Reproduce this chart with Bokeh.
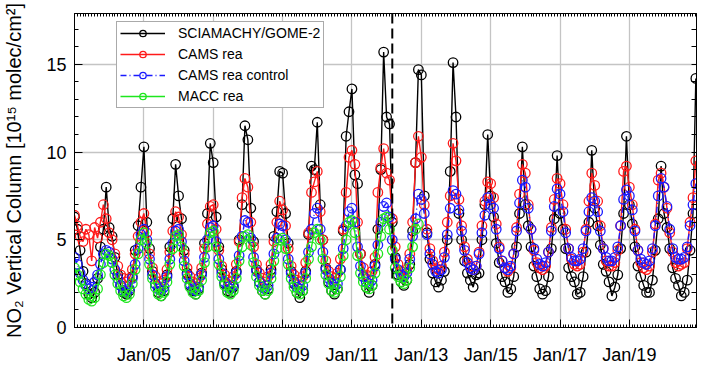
import pandas as pd
from bokeh.plotting import figure
from bokeh.models import (Range1d, FixedTicker, DatetimeTickFormatter, DatetimeAxis,
                          LinearAxis, Span, Legend, LegendItem, ColumnDataSource)
from bokeh.embed import file_html
from bokeh.resources import INLINE

# ---------------- data (monthly, Jan 2003 - Dec 2020) ----------------
sciamachy_gome2 = [
    6.3, 5.6, 4.4, 3.2, 2.5, 1.9, 1.7, 2.0, 2.8, 4.6, 5.6, 8.0,     # 2003
    5.7, 5.2, 4.0, 3.0, 2.4, 2.0, 1.9, 2.1, 2.9, 4.4, 5.8, 8.0,     # 2004
    10.3, 6.0, 4.5, 3.2, 2.5, 2.0, 1.8, 2.1, 3.0, 4.6, 6.2, 9.3,    # 2005
    7.5, 6.2, 4.4, 3.1, 2.4, 2.1, 1.9, 2.2, 3.1, 4.8, 6.5, 10.5,    # 2006
    9.4, 6.3, 4.6, 3.3, 2.5, 2.1, 2.0, 2.3, 3.2, 5.0, 7.0, 11.5,    # 2007
    10.7, 6.8, 4.9, 3.3, 2.6, 2.1, 1.9, 2.2, 3.3, 5.2, 6.6, 8.9,    # 2008
    8.8, 6.5, 4.8, 3.2, 2.5, 2.0, 1.7, 2.1, 3.2, 5.3, 9.2, 9.0,     # 2009
    11.7, 7.0, 5.0, 3.4, 2.6, 2.1, 1.9, 2.2, 3.3, 5.5, 10.9, 12.3,  # 2010
    13.6, 8.7, 8.2, 4.2, 2.9, 2.3, 2.0, 2.4, 3.6, 5.6, 9.0, 15.7,   # 2011
    12.0, 11.6, 6.0, 4.0, 3.0, 2.6, 2.4, 2.7, 3.6, 5.5, 9.4, 14.7,  # 2012
    14.4, 7.5, 5.4, 3.9, 3.1, 2.6, 2.3, 2.7, 3.2, 5.0, 8.9, 15.1,   # 2013
    12.0, 6.5, 5.0, 3.8, 3.1, 2.7, 2.3, 3.0, 3.1, 5.0, 7.0, 11.0,   # 2014
    7.5, 6.3, 4.8, 3.7, 2.9, 2.6, 2.0, 2.2, 2.9, 4.6, 6.5, 10.3,    # 2015
    7.0, 5.8, 4.6, 3.5, 2.9, 2.2, 1.9, 2.1, 2.9, 4.5, 6.2, 9.8,     # 2016
    6.5, 5.6, 4.5, 3.4, 2.9, 2.6, 1.9, 2.0, 2.9, 4.3, 6.0, 10.1,    # 2017
    6.8, 5.8, 4.7, 3.6, 3.2, 2.6, 1.8, 2.3, 3.0, 4.5, 6.5, 10.9,    # 2018
    7.0, 5.9, 4.6, 3.5, 2.9, 2.4, 2.0, 2.0, 2.7, 4.4, 6.2, 9.2,     # 2019
    6.5, 5.7, 4.5, 3.4, 2.8, 2.4, 1.8, 2.0, 2.7, 4.4, 6.5, 14.2,    # 2020
]
cams_rea = [
    6.4, 5.8, 5.2, 4.9, 5.6, 5.3, 3.8, 5.7, 5.1, 6.0, 7.0, 6.2,     # 2003
    5.4, 5.0, 4.2, 3.5, 3.0, 2.8, 2.6, 2.8, 3.3, 4.2, 5.2, 6.0,     # 2004
    6.5, 5.4, 4.2, 3.4, 2.9, 2.6, 2.5, 2.7, 3.3, 4.3, 5.5, 6.6,     # 2005
    6.3, 5.3, 4.2, 3.4, 2.9, 2.6, 2.5, 2.8, 3.4, 4.5, 5.9, 6.9,     # 2006
    7.0, 5.6, 4.4, 3.5, 3.0, 2.7, 2.6, 2.9, 3.6, 4.9, 7.4, 8.5,     # 2007
    8.0, 6.0, 4.6, 3.6, 3.1, 2.8, 2.6, 2.9, 3.6, 4.9, 6.0, 7.2,     # 2008
    6.7, 5.8, 4.5, 3.5, 3.0, 2.7, 2.6, 2.9, 3.7, 5.4, 7.7, 8.3,     # 2009
    8.9, 6.6, 5.0, 3.8, 3.2, 2.9, 2.8, 3.1, 3.9, 5.6, 7.7, 9.7,     # 2010
    10.1, 9.3, 6.0, 4.2, 3.4, 3.0, 2.9, 3.2, 4.0, 7.7, 9.1, 10.2,   # 2011
    8.8, 8.4, 6.2, 4.6, 3.6, 3.2, 3.0, 3.3, 4.2, 6.0, 9.4, 10.9,    # 2012
    9.7, 7.0, 5.6, 4.5, 3.8, 3.4, 3.3, 3.5, 4.3, 6.0, 7.5, 10.5,    # 2013
    9.5, 7.3, 5.8, 4.6, 3.9, 3.5, 3.3, 3.5, 4.3, 5.8, 7.2, 8.3,     # 2014
    8.2, 7.4, 5.9, 4.6, 3.8, 3.4, 3.2, 3.4, 4.2, 5.7, 7.6, 9.3,     # 2015
    8.8, 7.0, 5.6, 4.4, 3.7, 3.4, 3.3, 3.5, 4.3, 5.7, 7.3, 8.5,     # 2016
    8.2, 7.0, 5.6, 4.5, 3.9, 3.6, 3.5, 3.6, 4.3, 5.6, 7.2, 8.8,     # 2017
    8.1, 7.2, 5.8, 4.5, 3.8, 3.5, 3.5, 3.7, 4.4, 5.8, 8.9, 9.2,     # 2018
    8.0, 7.0, 5.6, 4.4, 3.7, 3.4, 3.3, 3.5, 4.3, 5.9, 8.4, 8.8,     # 2019
    8.0, 6.8, 5.4, 4.3, 3.7, 3.5, 3.6, 3.7, 4.5, 6.0, 7.4, 9.5,     # 2020
]
cams_rea_control = [
    4.0, 3.6, 3.1, 2.7, 2.4, 2.2, 2.3, 2.6, 3.0, 3.6, 4.2, 4.4,     # 2003
    4.3, 3.9, 3.3, 2.8, 2.4, 2.1, 2.0, 2.2, 2.8, 3.6, 4.5, 5.3,     # 2004
    5.6, 5.0, 3.9, 3.0, 2.5, 2.2, 2.1, 2.3, 2.9, 3.9, 4.8, 5.5,     # 2005
    5.6, 4.9, 3.8, 3.0, 2.5, 2.2, 2.1, 2.3, 3.0, 4.0, 5.0, 5.7,     # 2006
    5.8, 4.9, 3.9, 3.1, 2.6, 2.3, 2.2, 2.4, 3.1, 4.1, 5.2, 6.1,     # 2007
    6.0, 5.1, 4.0, 3.2, 2.6, 2.3, 2.2, 2.4, 3.1, 4.2, 5.1, 5.9,     # 2008
    5.8, 5.0, 3.9, 3.1, 2.6, 2.3, 2.2, 2.4, 3.1, 4.3, 5.6, 6.5,     # 2009
    6.8, 5.6, 4.3, 3.3, 2.8, 2.5, 2.3, 2.5, 3.3, 4.5, 5.8, 6.6,     # 2010
    6.8, 6.0, 4.6, 3.5, 2.9, 2.6, 2.5, 2.7, 3.5, 4.7, 6.0, 6.9,     # 2011
    7.1, 6.3, 5.0, 3.9, 3.3, 3.0, 2.9, 3.1, 3.9, 5.2, 6.2, 7.6,     # 2012
    7.3, 6.5, 5.3, 4.2, 3.6, 3.2, 3.1, 3.3, 4.0, 5.3, 6.8, 7.8,     # 2013
    7.6, 6.7, 5.5, 4.4, 3.7, 3.4, 3.3, 3.5, 4.2, 5.4, 6.4, 7.4,     # 2014
    7.0, 6.8, 5.6, 4.5, 3.8, 3.4, 3.3, 3.5, 4.2, 5.5, 7.1, 8.4,     # 2015
    8.0, 6.8, 5.6, 4.5, 3.9, 3.6, 3.5, 3.7, 4.3, 5.5, 6.9, 7.9,     # 2016
    7.6, 6.6, 5.4, 4.5, 4.0, 3.8, 3.8, 3.9, 4.5, 5.5, 6.6, 7.4,     # 2017
    7.2, 6.6, 5.5, 4.5, 4.0, 3.8, 3.8, 4.0, 4.6, 5.8, 7.3, 7.85,    # 2018
    7.5, 6.7, 5.5, 4.4, 3.9, 3.7, 3.6, 3.8, 4.5, 5.8, 7.5, 8.5,     # 2019
    8.0, 6.9, 5.6, 4.5, 4.0, 3.9, 3.9, 4.0, 4.6, 5.8, 7.0, 8.2,     # 2020
]
macc_rea = [
    3.4, 3.0, 2.6, 2.2, 1.9, 1.6, 1.5, 1.7, 2.2, 3.0, 3.7, 4.2,     # 2003
    4.1, 3.7, 3.0, 2.5, 2.1, 1.8, 1.7, 1.9, 2.5, 3.3, 4.2, 5.0,     # 2004
    5.4, 4.8, 3.6, 2.8, 2.3, 1.9, 1.8, 2.0, 2.6, 3.6, 4.5, 5.2,     # 2005
    5.3, 4.6, 3.5, 2.8, 2.3, 2.0, 1.9, 2.1, 2.7, 3.7, 4.6, 5.4,     # 2006
    5.5, 4.6, 3.6, 2.9, 2.4, 2.0, 1.9, 2.1, 2.8, 3.8, 4.6, 5.2,     # 2007
    5.3, 4.7, 3.7, 2.9, 2.4, 2.1, 1.9, 2.1, 2.8, 3.8, 4.5, 5.0,     # 2008
    5.1, 4.5, 3.6, 2.8, 2.3, 2.0, 1.9, 2.1, 2.8, 3.9, 4.6, 5.4,     # 2009
    5.6, 5.0, 3.9, 3.0, 2.5, 2.1, 2.0, 2.2, 2.9, 4.1, 5.0, 6.0,     # 2010
    6.1, 5.4, 4.1, 3.1, 2.6, 2.3, 2.2, 2.4, 3.1, 4.2, 5.2, 6.2,     # 2011
    6.3, 5.6, 4.4, 3.4, 2.9, 2.6, 2.5, 2.7, 3.4, 4.6, 5.6, 5.9,     # 2012
]
tick_dates = ["2005-01-01", "2007-01-01", "2009-01-01", "2011-01-01",
              "2013-01-01", "2015-01-01", "2017-01-01", "2019-01-01"]
y_ticks = [0, 5, 10, 15]
instrument_switch = "2012-03-01"

months = pd.date_range("2003-01-01", periods=len(sciamachy_gome2), freq="MS")

def ms(d):
    return pd.Timestamp(d).value // 10**6

FONT = "Liberation Sans"

p = figure(width=700, height=367, x_axis_type="datetime",
           x_range=Range1d(ms("2003-01-01"), ms("2020-12-08")),
           y_range=Range1d(0, 17.9),
           output_backend="svg", toolbar_location=None,
           min_border_left=73, min_border_right=4, min_border_top=13, min_border_bottom=40)
p.outline_line_color = "black"
p.outline_line_width = 1
p.background_fill_color = "white"
p.border_fill_color = "white"

minor_months = [ms(d) for d in pd.date_range("2003-01-01", "2021-01-01", freq="MS")]
xticker = FixedTicker(ticks=[ms(d) for d in tick_dates], minor_ticks=minor_months)
yticker = FixedTicker(ticks=y_ticks, minor_ticks=list(range(0, 18)))

xa = p.xaxis[0]
xa.ticker = xticker
xa.formatter = DatetimeTickFormatter(years="%b/%y", months="%b/%y", days="%b/%y")
ya = p.yaxis[0]
ya.ticker = yticker

for ax in (xa, ya):
    ax.major_tick_in = 8
    ax.major_tick_out = 0
    ax.minor_tick_in = 4
    ax.minor_tick_out = 0
    ax.axis_line_color = "black"
    ax.major_tick_line_color = "black"
    ax.minor_tick_line_color = "black"
    ax.major_label_text_font = FONT
    ax.major_label_text_font_size = "18px"
    ax.major_label_text_color = "black"
xa.minor_tick_in = 3
xa.major_label_standoff = 17
ya.major_label_standoff = 8

ya.axis_label = "NO\u2082 Vertical Column [10\u00b9\u2075 molec/cm\u00b2]"
ya.axis_label_text_font = FONT
ya.axis_label_text_font_size = "20px"
ya.axis_label_text_font_style = "normal"
ya.axis_label_text_color = "black"
ya.axis_label_standoff = 18

# mirrored tick marks (no labels) on top and right
top = DatetimeAxis(ticker=FixedTicker(ticks=[], minor_ticks=minor_months),
                   minor_tick_in=3, minor_tick_out=0, major_tick_out=0)
right = LinearAxis(ticker=FixedTicker(ticks=[], minor_ticks=list(range(0, 18))),
                   minor_tick_in=5, minor_tick_out=0, major_tick_out=0)
p.add_layout(top, "above")
p.add_layout(right, "right")

for g in (p.xgrid[0], p.ygrid[0]):
    g.grid_line_color = "#c4c4c4"
    g.grid_line_width = 1.3

p.add_layout(Span(location=ms(instrument_switch), dimension="height",
                  line_color="black", line_width=2, line_dash="10 5"))

def series(vals, color, dash="solid"):
    src = ColumnDataSource(dict(x=months[:len(vals)], y=vals))
    ln = p.line("x", "y", source=src, line_color=color, line_width=1.4, line_dash=dash)
    sc = p.scatter("x", "y", source=src, marker="circle", size=9.5,
                   fill_color=None, line_color=color, line_width=1.3)
    return [ln, sc]

r_black = series(sciamachy_gome2, "black")
r_red = series(cams_rea, "#ff1a1a")
r_blue = series(cams_rea_control, "#1a1aff", dash="6 3 1 3")
r_green = series(macc_rea, "#1ee61e")

legend = Legend(items=[
    LegendItem(label="SCIAMACHY/GOME-2", renderers=r_black),
    LegendItem(label="CAMS rea", renderers=r_red),
    LegendItem(label="CAMS rea control", renderers=r_blue),
    LegendItem(label="MACC rea", renderers=r_green),
], location=(42, 219))
legend.label_text_font = FONT
legend.label_text_font_size = "14px"
legend.label_text_color = "black"
legend.glyph_width = 45
legend.glyph_height = 16
legend.label_height = 16
legend.label_standoff = 13
legend.spacing = 5
legend.padding = 3
legend.margin = 0
legend.border_line_color = "#555555"
legend.border_line_width = 1
legend.background_fill_color = "white"
legend.background_fill_alpha = 1
p.add_layout(legend, "center")

open("out.html", "w").write(file_html(p, INLINE))
